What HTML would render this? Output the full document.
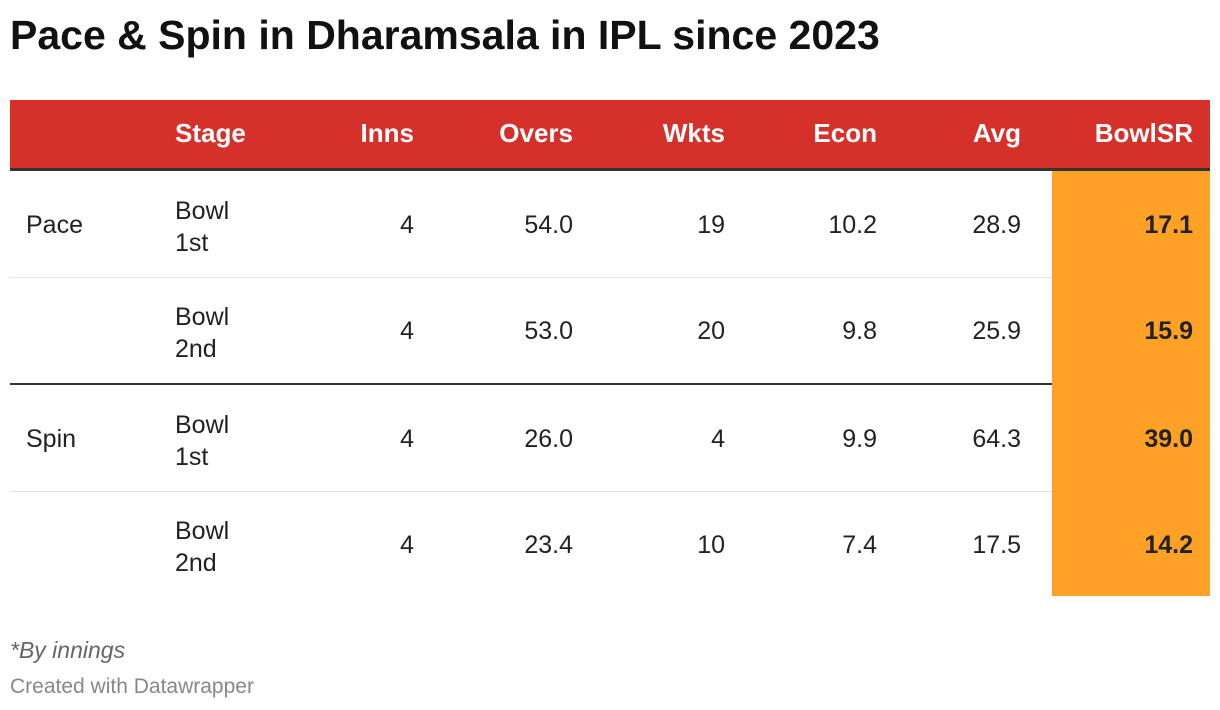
<!DOCTYPE html>
<html><head><meta charset="utf-8"><style>
body{margin:0;width:1220px;height:710px;background:#fff;font-family:"Liberation Sans",sans-serif;position:relative;overflow:hidden}
.t{position:absolute;white-space:nowrap}
.title{left:10px;top:12px;font-size:41px;font-weight:bold;color:#111}
.hdr{position:absolute;left:10px;top:100px;width:1200px;height:68px;background:#d6302b}
.hline{position:absolute;left:10px;top:168px;width:1200px;height:3px;background:#333}
.orange{position:absolute;left:1052px;top:171px;width:158px;height:425px;background:#ffa126}
.sep{position:absolute;left:10px;width:1200px;height:1px;background:#e4e4e4}
.h{color:#fff;font-weight:bold;font-size:26px;top:118px}
.c{font-size:25px;color:#222}
.r{text-align:right}
</style></head><body>
<div class="t title">Pace &amp; Spin in Dharamsala in IPL since 2023</div>
<div class="hdr"></div><div class="hline"></div>
<div class="sep" style="top:277px"></div>
<div class="sep" style="top:383px;height:2px;background:#333"></div>
<div class="sep" style="top:491px"></div>
<div class="orange"></div>
<div class="t h" style="left:175px">Stage</div>
<div class="t h r" style="right:806px">Inns</div>
<div class="t h r" style="right:647px">Overs</div>
<div class="t h r" style="right:495px">Wkts</div>
<div class="t h r" style="right:343px">Econ</div>
<div class="t h r" style="right:199px">Avg</div>
<div class="t h r" style="right:27px">BowlSR</div>

<div class="t c" style="left:26px;top:211px">Pace</div>
<div class="t c" style="left:175px;top:195px;line-height:32px">Bowl<br>1st</div>
<div class="t c r" style="right:806px;top:211px">4</div>
<div class="t c r" style="right:647px;top:211px">54.0</div>
<div class="t c r" style="right:495px;top:211px">19</div>
<div class="t c r" style="right:343px;top:211px">10.2</div>
<div class="t c r" style="right:199px;top:211px">28.9</div>
<div class="t c r" style="right:27px;top:211px;font-weight:bold">17.1</div>

<div class="t c" style="left:175px;top:301px;line-height:32px">Bowl<br>2nd</div>
<div class="t c r" style="right:806px;top:317px">4</div>
<div class="t c r" style="right:647px;top:317px">53.0</div>
<div class="t c r" style="right:495px;top:317px">20</div>
<div class="t c r" style="right:343px;top:317px">9.8</div>
<div class="t c r" style="right:199px;top:317px">25.9</div>
<div class="t c r" style="right:27px;top:317px;font-weight:bold">15.9</div>

<div class="t c" style="left:26px;top:425px">Spin</div>
<div class="t c" style="left:175px;top:409px;line-height:32px">Bowl<br>1st</div>
<div class="t c r" style="right:806px;top:425px">4</div>
<div class="t c r" style="right:647px;top:425px">26.0</div>
<div class="t c r" style="right:495px;top:425px">4</div>
<div class="t c r" style="right:343px;top:425px">9.9</div>
<div class="t c r" style="right:199px;top:425px">64.3</div>
<div class="t c r" style="right:27px;top:425px;font-weight:bold">39.0</div>

<div class="t c" style="left:175px;top:515px;line-height:32px">Bowl<br>2nd</div>
<div class="t c r" style="right:806px;top:531px">4</div>
<div class="t c r" style="right:647px;top:531px">23.4</div>
<div class="t c r" style="right:495px;top:531px">10</div>
<div class="t c r" style="right:343px;top:531px">7.4</div>
<div class="t c r" style="right:199px;top:531px">17.5</div>
<div class="t c r" style="right:27px;top:531px;font-weight:bold">14.2</div>

<div class="t" style="left:10px;top:637px;font-size:23px;font-style:italic;color:#666">*By innings</div>
<div class="t" style="left:10px;top:675px;font-size:21px;color:#888">Created with Datawrapper</div>
</body></html>
